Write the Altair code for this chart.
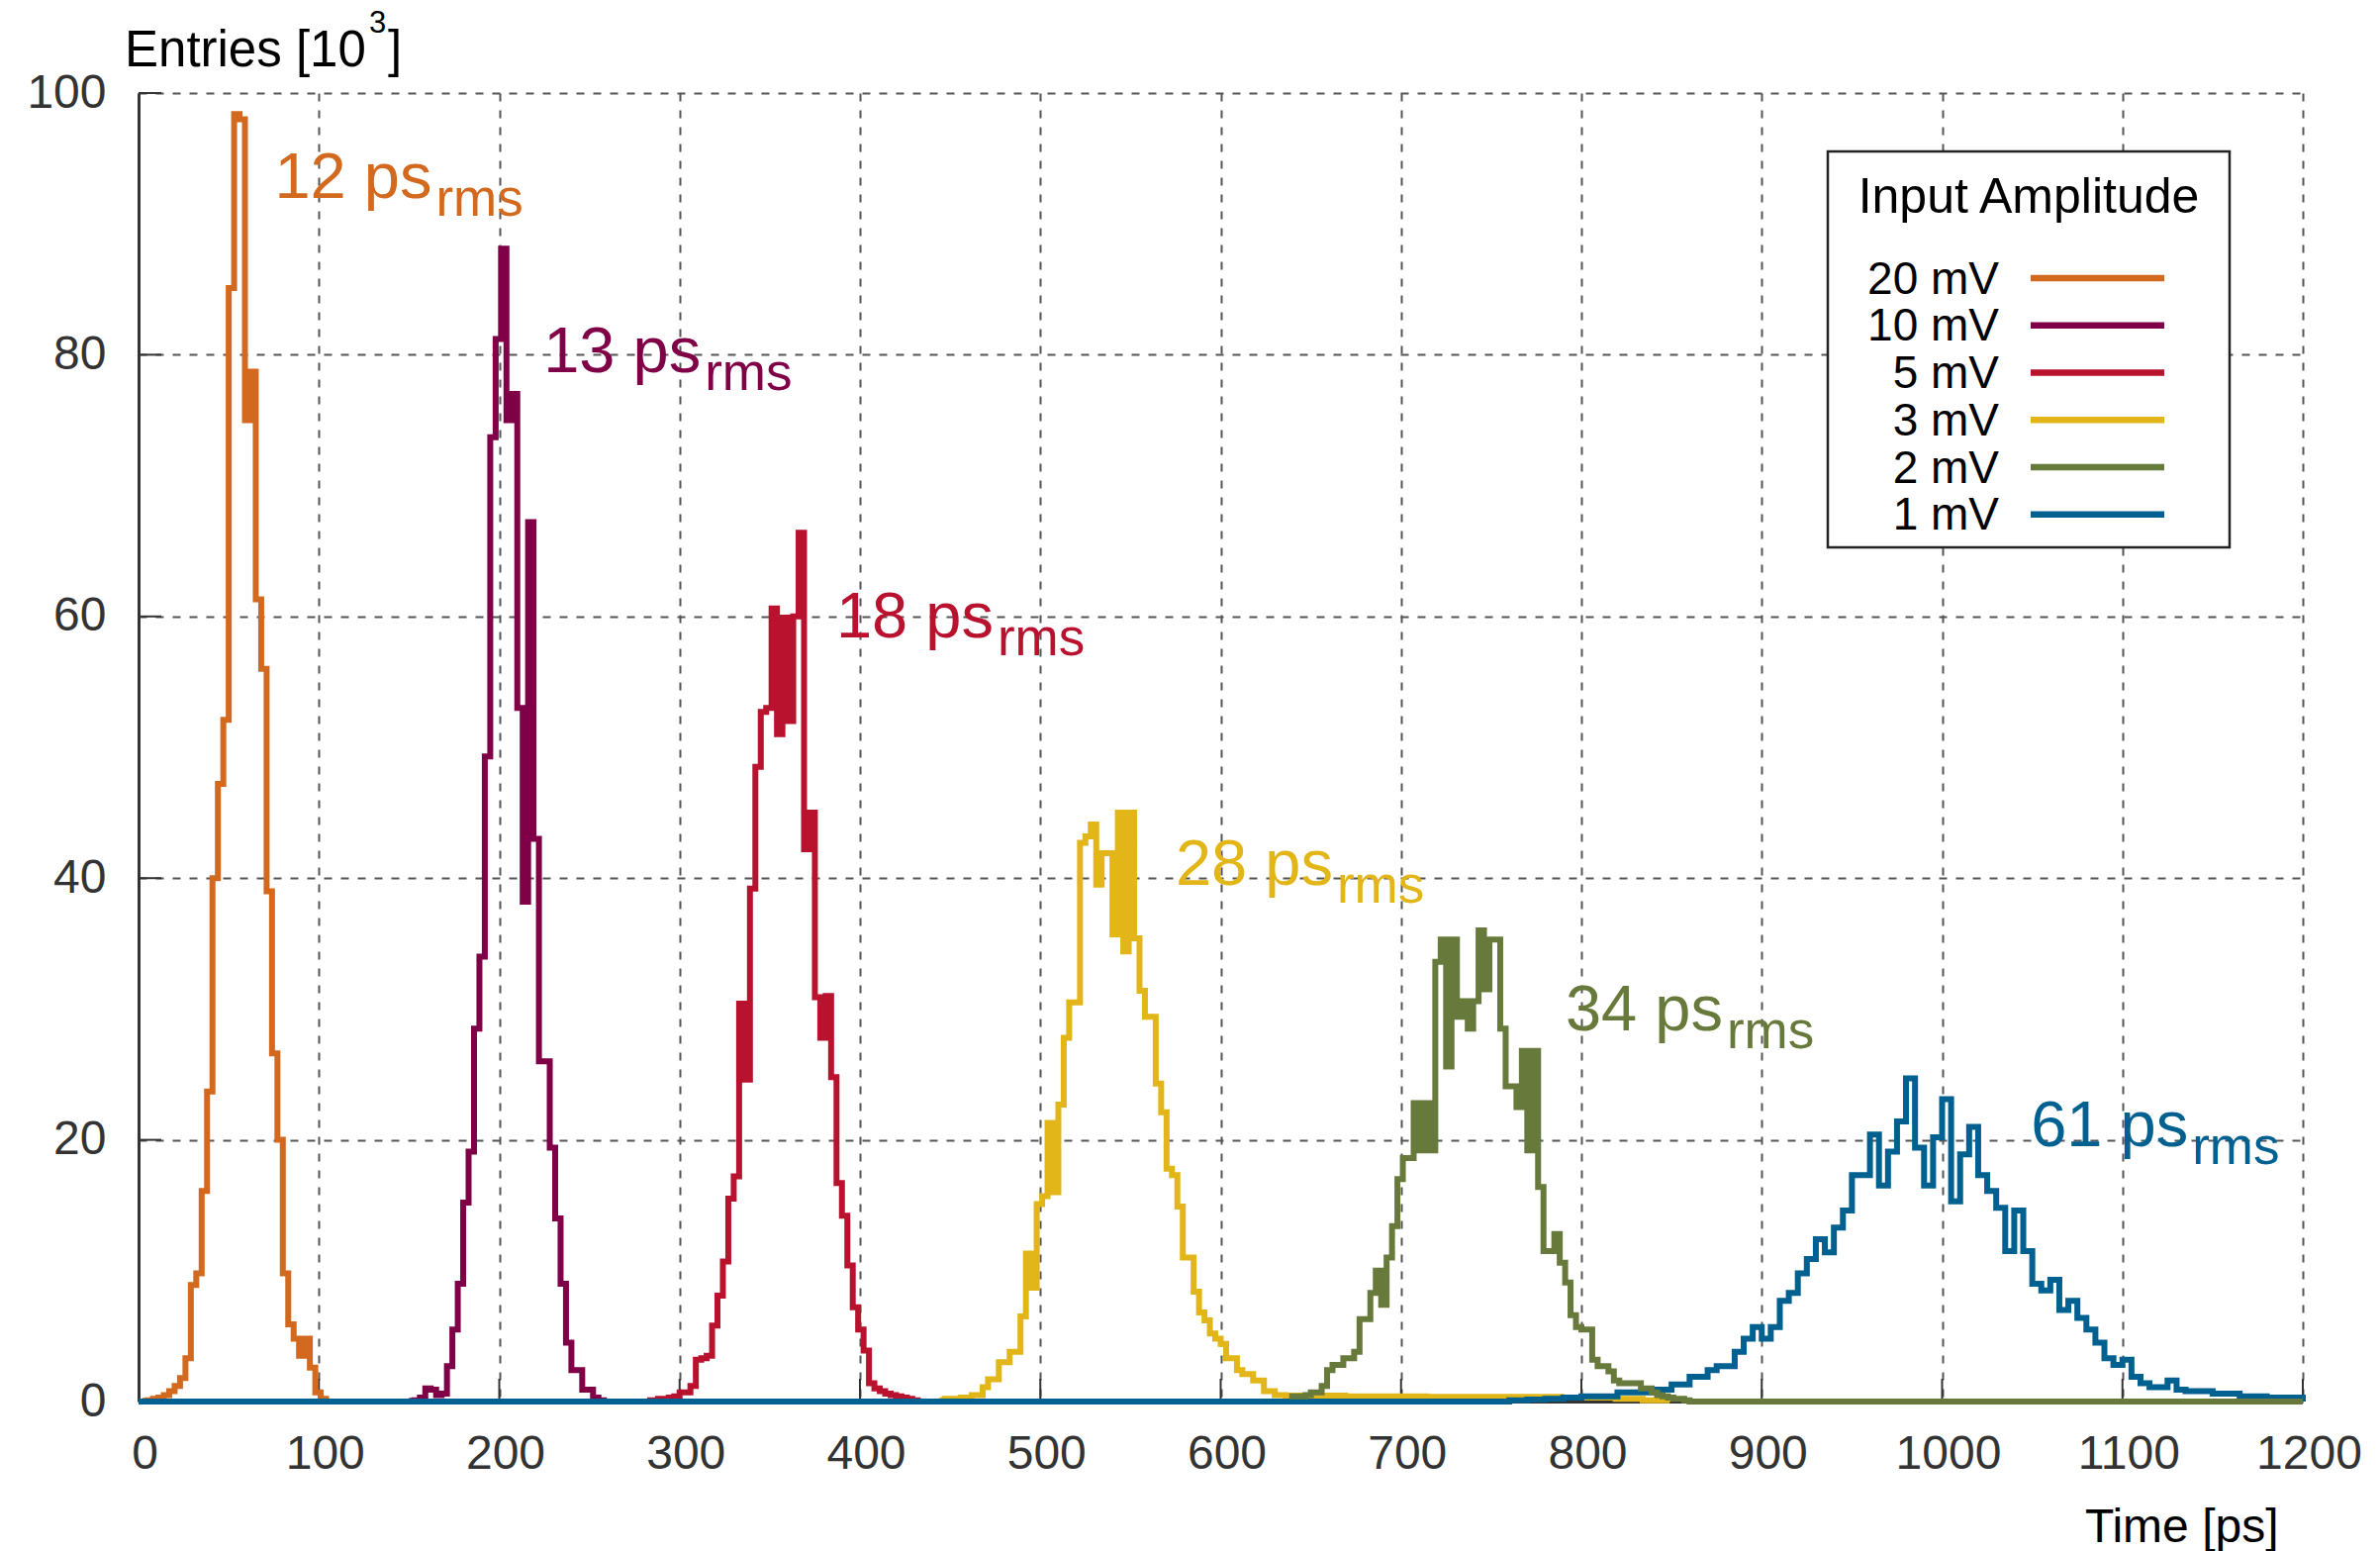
import altair as alt
import pandas as pd

FONT = "Liberation Sans"

# ---------------- data ----------------
series_names = ["20 mV", "10 mV", "5 mV", "3 mV", "2 mV", "1 mV"]
series_colors = ["#d2691e", "#7f0047", "#b8122f", "#e2b618", "#687a3b", "#00608f"]

rms_labels = ["12 ps", "13 ps", "18 ps", "28 ps", "34 ps", "61 ps"]
label_t = [75.4, 224.5, 386.8, 575.0, 791.2, 1049.2]
label_v = [92.0, 78.7, 58.4, 39.5, 28.4, 19.5]

x_ticks = list(range(0, 1201, 100))
y_ticks = list(range(0, 101, 20))

# histograms: bin start [ps], bin width [ps], entries per bin [10^3]
h20_start, h20_width = 2, 3
h20_values = [0.05, 0.1, 0.2, 0.3, 0.5, 0.8, 1.2, 1.8, 3.3, 8.9, 9.8, 16.1, 23.7, 40.0,
              47.2, 52.1, 85.1, 98.4, 98.0, 75.0, 78.7, 61.3, 56.0, 39.0, 26.6, 20.0,
              9.8, 5.9, 4.8, 3.5, 4.8, 2.6, 0.7, 0.2]

h10_start, h10_width = 150, 3
h10_values = [0.05, 0.1, 0.3, 1.0, 0.9, 0.5, 0.6, 2.7, 5.5, 9.0, 15.2, 19.1, 28.5, 34.0,
              49.3, 73.7, 81.2, 88.1, 75.0, 77.0, 53.0, 38.2, 67.2, 43.0, 26.0, 26.0,
              19.4, 14.0, 9.0, 4.5, 2.4, 2.4, 0.9, 0.9, 0.3, 0.1]

h5_start, h5_width = 282, 3
h5_values = [0.1, 0.1, 0.2, 0.2, 0.3, 0.4, 0.7, 0.7, 1.2, 3.2, 3.3, 3.5, 5.8, 8.1, 10.7,
             15.5, 17.2, 30.4, 24.6, 39.2, 48.5, 52.7, 53.0, 60.6, 51.0, 59.9, 52.0, 60.0,
             66.4, 42.2, 45.0, 30.9, 27.8, 31.0, 24.8, 16.7, 14.2, 10.4, 7.2, 5.5, 3.9,
             1.4, 1.0, 0.8, 0.6, 0.5, 0.4, 0.3, 0.2, 0.1]

h3_start, h3_width = 444, 3
h3_values = [0.1, 0.2, 0.2, 0.2, 0.3, 0.3, 0.5, 0.5, 1.1, 1.7, 1.7, 3.0, 3.0, 3.8, 3.8,
             6.5, 11.3, 8.7, 15.1, 15.7, 21.3, 16.0, 22.7, 27.8, 30.5, 30.5, 42.7, 43.2,
             44.1, 39.5, 41.9, 41.9, 35.7, 45.0, 34.4, 45.0, 35.4, 31.4, 29.4, 29.4, 24.3,
             22.1, 17.8, 17.3, 14.9, 11.0, 11.0, 8.4, 6.8, 6.2, 5.2, 4.8, 4.4, 3.3, 3.3,
             2.4, 2.1, 2.1, 1.6, 1.6, 0.8, 0.8, 0.5, 0.5, 0.45]
h3_tail_start, h3_tail_width = 639, 15
h3_tail_values = [0.45, 0.45, 0.4, 0.4, 0.4, 0.35, 0.35, 0.35, 0.35, 0.35, 0.3, 0.3, 0.2, 0.1]

h2_start, h2_width = 638, 3
h2_values = [0.4, 0.4, 0.4, 0.5, 0.7, 0.7, 1.2, 2.4, 2.8, 2.8, 3.3, 3.3, 3.8, 6.3, 6.3,
             8.3, 10.0, 7.4, 11.0, 13.4, 17.0, 18.6, 18.6, 22.8, 19.2, 22.8, 19.2, 33.6,
             35.3, 25.6, 35.3, 29.4, 30.6, 28.5, 30.6, 36.0, 31.5, 35.3, 35.3, 28.5, 24.1,
             24.1, 22.5, 26.8, 19.2, 26.8, 16.4, 11.5, 11.5, 12.8, 10.6, 9.1, 6.6, 5.7,
             5.5, 5.5, 3.2, 2.7, 2.7, 2.3, 1.6, 1.4, 1.4, 1.4, 1.4, 1.0, 1.0, 0.7, 0.5,
             0.4, 0.3, 0.2, 0.2, 0.1]

h1_start, h1_width = 760, 5
h1_values = [0.1, 0.1, 0.15, 0.15, 0.2, 0.2, 0.3, 0.3, 0.4, 0.4, 0.4, 0.4, 0.7, 0.7, 0.7,
             0.7, 0.9, 0.9, 1.3, 1.3, 1.9, 1.9, 2.4, 2.7, 2.7, 3.8, 4.8, 5.7, 4.8, 5.7,
             7.7, 8.3, 9.8, 10.9, 12.4, 11.4, 13.3, 14.6, 17.3, 17.3, 20.4, 16.5, 19.1,
             21.4, 24.7, 19.4, 16.5, 20.2, 23.1, 15.3, 18.9, 21.0, 17.3, 16.1, 14.8, 11.5,
             14.6, 11.5, 9.0, 8.5, 9.3, 7.0, 7.7, 6.4, 5.5, 4.5, 3.3, 2.8, 3.2, 1.9, 1.4,
             1.1, 1.1, 1.6, 0.9, 0.8, 0.8, 0.8, 0.6, 0.6, 0.6, 0.4, 0.4, 0.4, 0.3, 0.3,
             0.3, 0.3]


def hist_frame(segments, lead=None, trail=None):
    ts, vs = [], []
    if lead is not None:
        ts.append(lead)
        vs.append(0.0)
    for start, width, values in segments:
        for i, val in enumerate(values):
            ts.append(start + i * width)
            vs.append(val)
    start, width, values = segments[-1]
    ts.append(start + len(values) * width)
    vs.append(0.0)
    if trail is not None and trail > ts[-1]:
        ts.append(trail)
        vs.append(0.0)
    return pd.DataFrame({"t": ts, "v": vs})


hists = [
    hist_frame([(h20_start, h20_width, h20_values)]),
    hist_frame([(h10_start, h10_width, h10_values)]),
    hist_frame([(h5_start, h5_width, h5_values)]),
    hist_frame([(h3_start, h3_width, h3_values), (h3_tail_start, h3_tail_width, h3_tail_values)]),
    hist_frame([(h2_start, h2_width, h2_values)], trail=1200),
    hist_frame([(h1_start, h1_width, h1_values)], lead=0),
]
draw_order = [0, 1, 2, 3, 5, 4]

# ---------------- layout ----------------
W, H = 2187, 1322
GRID = dict(grid=True, gridDash=[8, 9], gridColor="#555555", gridWidth=2, ticks=False,
            domainColor="#333333", domainWidth=3, labelFontSize=48, labelColor="#333333",
            labelFont=FONT, labelFlush=False, labelOverlap=False, labelBound=False,
            format="d")

xs = alt.Scale(domain=[0, 1200], nice=False, zero=False)
ys = alt.Scale(domain=[0, 100], nice=False)
x_axis = alt.Axis(values=x_ticks, title="Time [ps]", labelPadding=29, labelOffset=6,
                  titleFontSize=48, titleFontWeight="normal", titleColor="black",
                  titleFont=FONT, titleX=2162, titleY=141, titleAlign="right",
                  titleBaseline="alphabetic", **GRID)
y_axis = alt.Axis(values=y_ticks, title=None, labelPadding=33, **GRID)
X = alt.X("t:Q", scale=xs, axis=x_axis)
Y = alt.Y("v:Q", scale=ys, axis=y_axis)

one = pd.DataFrame({"k": [0]})
layers = []

# inward ticks
layers.append(alt.Chart(pd.DataFrame({"t": x_ticks})).mark_rule(color="#333333", strokeWidth=2)
              .encode(x=X, y=alt.value(H), y2=alt.value(H - 23)))
layers.append(alt.Chart(pd.DataFrame({"v": y_ticks})).mark_rule(color="#333333", strokeWidth=2)
              .encode(y=Y, x=alt.value(0), x2=alt.value(23)))

# histograms
for idx in draw_order:
    layers.append(alt.Chart(hists[idx]).mark_line(interpolate="step-after",
                                                   color=series_colors[idx],
                                                   strokeWidth=6)
                  .encode(x=X, y=Y))

# rms annotations
lab_df = pd.DataFrame({"t": label_t, "v": label_v, "txt": rms_labels, "series": series_names})
col = alt.Color("series:N", scale=alt.Scale(domain=series_names, range=series_colors), legend=None)
layers.append(alt.Chart(lab_df).mark_text(align="left", baseline="alphabetic", fontSize=65)
              .encode(x=X, y=Y, text="txt:N", color=col))
layers.append(alt.Chart(lab_df).mark_text(align="left", baseline="alphabetic", fontSize=53,
                                           dx=163, dy=18)
              .encode(x=X, y=Y, text=alt.value("rms"), color=col))

# y-axis title  "Entries [10^3]"
layers.append(alt.Chart(one).mark_text(align="left", baseline="alphabetic", fontSize=51, color="black")
              .encode(x=alt.value(-14), y=alt.value(-27), text=alt.value("Entries [10")))
layers.append(alt.Chart(one).mark_text(align="left", baseline="alphabetic", fontSize=31, color="black")
              .encode(x=alt.value(233), y=alt.value(-61), text=alt.value("3")))
layers.append(alt.Chart(one).mark_text(align="left", baseline="alphabetic", fontSize=51, color="black")
              .encode(x=alt.value(252), y=alt.value(-27), text=alt.value("]")))

# legend box
layers.append(alt.Chart(one).mark_rect(fill="white", stroke="#222222", strokeWidth=2.5)
              .encode(x=alt.value(1707), x2=alt.value(2113), y=alt.value(59), y2=alt.value(459)))
layers.append(alt.Chart(one).mark_text(align="center", baseline="alphabetic", fontSize=50, color="black")
              .encode(x=alt.value(1910), y=alt.value(121), text=alt.value("Input Amplitude")))
for i, (name, colr) in enumerate(zip(series_names, series_colors)):
    row = pd.DataFrame({"name": [name]})
    layers.append(alt.Chart(row).mark_text(align="right", baseline="alphabetic", fontSize=46,
                                           color="black")
                  .encode(x=alt.value(1880), y=alt.value(202.7 + i * 47.75), text="name:N"))
    layers.append(alt.Chart(row).mark_rule(color=colr, strokeWidth=6.5)
                  .encode(x=alt.value(1912), x2=alt.value(2047), y=alt.value(187 + i * 47.75)))

chart = alt.layer(*layers).properties(
    width=W, height=H,
    padding={"left": 140, "top": 94, "right": 78, "bottom": 151},
    autosize=alt.AutoSizeParams(type="none"),
    background="white",
).configure(font=FONT, view=alt.ViewConfig(stroke=None))

chart.save("out.html", embed_options={"renderer": "svg", "actions": False})
